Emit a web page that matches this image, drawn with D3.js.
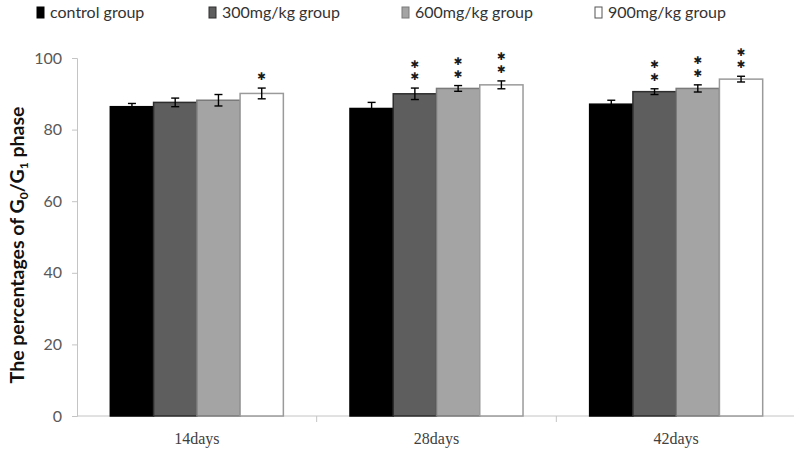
<!DOCTYPE html>
<html>
<head>
<meta charset="utf-8">
<script src="https://cdn.jsdelivr.net/npm/d3@7"></script>
<style>
  html, body { margin: 0; padding: 0; background: #fff; }
  svg { display: block; }
</style>
</head>
<body>
<svg id="chart" width="794" height="451"></svg>
<script>
// ---- data ----
const categories = ["14days", "28days", "42days"];
const groups = ["control group", "300mg/kg group", "600mg/kg group", "900mg/kg group"];
const controlValues = [86.4, 85.9, 87.1];
const dose300Values = [87.6, 90.0, 90.6];
const dose600Values = [88.2, 91.5, 91.5];
const dose900Values = [90.1, 92.5, 94.1];
const controlErr = [0.9, 1.7, 1.1];
const dose300Err = [1.2, 1.6, 0.8];
const dose600Err = [1.6, 0.8, 1.0];
const dose900Err = [1.5, 1.1, 0.8];
// significance marks: number of asterisks per bar
const controlSig = [0, 0, 0];
const dose300Sig = [0, 2, 2];
const dose600Sig = [0, 2, 2];
const dose900Sig = [1, 2, 2];
const yTicks = [0, 20, 40, 60, 80, 100];

(function () {
const values = [controlValues, dose300Values, dose600Values, dose900Values];
const errs = [controlErr, dose300Err, dose600Err, dose900Err];
const sigs = [controlSig, dose300Sig, dose600Sig, dose900Sig];

const fills = ["#000000", "#5e5e5e", "#a4a4a4", "#ffffff"];
const strokes = ["#000000", "#2e2e2e", "#7a7a7a", "#9a9a9a"];

const svg = d3.select("#chart");
const mLeft = 77, mRight = 796, mTop = 58, mBottom = 416;

const x0 = d3.scaleBand().domain(categories).range([mLeft, mRight]).paddingInner(0).paddingOuter(0);
const x1 = d3.scaleBand().domain(d3.range(groups.length)).range([0, x0.bandwidth()]).paddingOuter(0.77).paddingInner(0);
const y = d3.scaleLinear().domain([0, 100]).range([mBottom, mTop]);

// y axis
const yAxis = svg.append("g").attr("transform", `translate(${mLeft},0)`)
  .call(d3.axisLeft(y).tickValues(yTicks).tickSize(5).tickPadding(10));
yAxis.select(".domain").attr("stroke", "#c4c4c4");
yAxis.selectAll(".tick line").attr("stroke", "#c4c4c4");
yAxis.selectAll(".tick text").attr("fill", "#595959").attr("font-family", "Lato, sans-serif").attr("font-size", 16);

// x baseline and category separators
svg.append("line").attr("x1", mLeft).attr("x2", mRight).attr("y1", mBottom).attr("y2", mBottom).attr("stroke", "#c4c4c4");
svg.selectAll(".sep").data(categories.slice(1)).enter().append("line")
  .attr("x1", d => x0(d)).attr("x2", d => x0(d))
  .attr("y1", mBottom).attr("y2", mBottom + 6).attr("stroke", "#c4c4c4");

// bars
const rows = [];
categories.forEach((c, ci) => {
  groups.forEach((g, gi) => {
    rows.push({ c, ci, gi, v: values[gi][ci], e: errs[gi][ci], s: sigs[gi][ci] });
  });
});

svg.append("g").selectAll("rect").data(rows).enter().append("rect")
  .attr("x", d => x0(d.c) + x1(d.gi))
  .attr("y", d => y(d.v))
  .attr("width", x1.bandwidth())
  .attr("height", d => y(0) - y(d.v))
  .attr("fill", d => fills[d.gi])
  .attr("stroke", d => strokes[d.gi])
  .attr("stroke-width", 1.5);

// error bars
const eb = svg.append("g").attr("stroke", "#000").attr("stroke-width", 1.4);
rows.forEach(d => {
  const cx = x0(d.c) + x1(d.gi) + x1.bandwidth() / 2;
  eb.append("line").attr("x1", cx).attr("x2", cx).attr("y1", y(d.v + d.e)).attr("y2", y(d.v - d.e));
  eb.append("line").attr("x1", cx - 4).attr("x2", cx + 4).attr("y1", y(d.v + d.e)).attr("y2", y(d.v + d.e));
  eb.append("line").attr("x1", cx - 4).attr("x2", cx + 4).attr("y1", y(d.v - d.e)).attr("y2", y(d.v - d.e));
});

// significance asterisks
const sg = svg.append("g").attr("font-family", "'DejaVu Sans', sans-serif")
  .attr("font-size", 10.5).attr("fill", "#1a1a1a").attr("text-anchor", "middle")
  .attr("dominant-baseline", "central");
rows.filter(d => d.s > 0).forEach(d => {
  const cx = x0(d.c) + x1(d.gi) + x1.bandwidth() / 2;
  const lowest = y(d.v + d.e) - 12;
  for (let k = 0; k < d.s; k++) {
    sg.append("text").attr("x", cx).attr("y", lowest - k * 12.5).text("\u2731");
  }
});

// x category labels
svg.append("g").selectAll("text").data(categories).enter().append("text")
  .attr("x", d => x0(d) + x0.bandwidth() / 2)
  .attr("y", 444)
  .attr("text-anchor", "middle")
  .attr("font-family", "'Liberation Serif', serif")
  .attr("font-size", 16)
  .attr("fill", "#404040")
  .text(d => d);

// y axis title
const title = svg.append("text")
  .attr("transform", "translate(24,245) rotate(-90)")
  .attr("text-anchor", "middle")
  .attr("font-family", "Lato, sans-serif")
  .attr("font-weight", "bold")
  .attr("font-size", 19.5)
  .attr("fill", "#111");
title.append("tspan").text("The percentages of G");
title.append("tspan").attr("font-size", 12).attr("dy", 4).text("0");
title.append("tspan").attr("dy", -4).text("/G");
title.append("tspan").attr("font-size", 12).attr("dy", 4).text("1");
title.append("tspan").attr("dy", -4).text(" phase");

// legend
const legendX = [37, 209, 402, 595];
const lg = svg.append("g");
groups.forEach((g, i) => {
  lg.append("rect").attr("x", legendX[i]).attr("y", 7).attr("width", 7).attr("height", 11)
    .attr("fill", fills[i]).attr("stroke", i === 3 ? "#555" : strokes[i]).attr("stroke-width", 1);
  lg.append("text").attr("x", legendX[i] + 13).attr("y", 18)
    .attr("font-family", "Lato, sans-serif").attr("font-size", 16).attr("fill", "#333")
    .text(g);
});
})();
</script>
</body>
</html>
